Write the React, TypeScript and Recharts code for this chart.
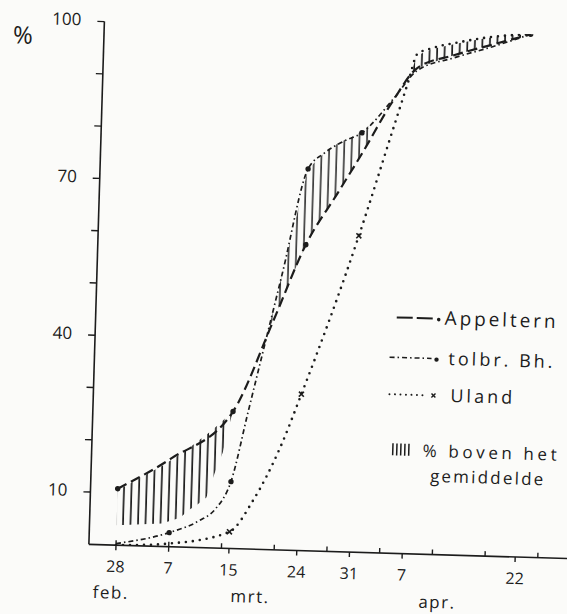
import React from 'react';
import { ComposedChart, Line, Area, XAxis, YAxis } from 'recharts';

// days after 28 feb, cumulative %
const appelternDays = [0, 7, 15, 20, 24, 28, 31, 35, 38, 43, 48, 53];
const appelternValues = [10.8, 16.9, 26.2, 43.8, 58.5, 68.5, 76, 86.5, 92.8, 95.6, 97.8, 100];
const appelternMarks = [0, 15, 24, 53];

const tolbrDays = [0, 7, 11, 13, 15, 17, 21, 24, 26, 28.5, 31, 35, 38, 43, 48, 53];
const tolbrValues = [0.3, 2.7, 5.2, 7.4, 12.8, 26.2, 52.9, 73, 76, 78.4, 80.2, 86.8, 92.3, 95.1, 97.4, 100];
const tolbrMarks = [7, 15, 24, 31];

const ulandDays = [0, 7, 15, 18, 21.4, 24, 31, 35, 37, 38, 40, 43, 48, 53];
const ulandValues = [0, 0.6, 3.2, 9.3, 19.6, 29.9, 60.5, 80.5, 90.5, 95.5, 96.8, 97.9, 99.3, 100];
const ulandMarks = [15, 24, 31];

// hatched parts: "% boven het gemiddelde"
const hatch1Days = [0, 6, 8.4, 9.4, 10.6, 11.8, 12.8, 13.8, 14.4, 14.9];
const hatch1Low = [3.8, 4.4, 5.6, 7.0, 8.2, 9.6, 14.3, 18.3, 22.6, 25.8];
const hatch1High = [10.5, 15.6, 18.0, 19.1, 20.5, 21.9, 23.2, 24.6, 25.5, 25.9];

const hatch2Days = [19.3, 20, 21, 22, 23, 24, 26, 28, 30, 32];
const hatch2Low = [41.7, 44.1, 47.7, 51.3, 54.9, 58.5, 63.5, 68.5, 73.5, 78.6];
const hatch2High = [41.7, 46.2, 52.9, 59.6, 66.3, 73, 76, 78.2, 79.6, 81.7];

const hatch3Days = [36.8, 38, 40, 43, 46, 48, 50, 52];
const hatch3Low = [90.0, 92.8, 94.0, 95.6, 96.9, 97.8, 98.7, 99.5];
const hatch3High = [90.0, 95.3, 96.6, 97.7, 98.7, 99.2, 99.6, 99.9];

const xTickDays = [0, 7, 14, 15, 21, 24, 28, 31, 35, 38, 42, 49, 53, 56];
const xWeekDays = [0, 7, 14, 21, 28, 35, 42, 49, 56];
const xLabelDays = [0, 7, 15, 24, 31, 38, 53];
const xLabelTexts = ['28', '7', '15', '24', '31', '7', '22'];
const monthDays = [-0.5, 18, 42.8];
const monthNames = ['feb.', 'mrt.', 'apr.'];

const yTicks = [10, 20, 30, 40, 50, 60, 70, 80, 90, 100];
const yLabels = [10, 40, 70, 100];

const legendNames = ['Appeltern', 'tolbr. Bh.', 'Uland'];
const hatchNote = ['% boven het', 'gemiddelde'];

const INK = '#1c1c1c';
const PAPER = '#fbfbf9';
const FONT = '"Open Sans", "DejaVu Sans", sans-serif';
const W = 580;
const H = 614;

const DASH = '10 5';
const DASH_DOT = '5 3 1.5 3';
const DOTTED = '0 7';

const toRows = (days: number[], values: number[]) => days.map((day, i) => ({ day, v: values[i] }));
const toRange = (days: number[], low: number[], high: number[]) =>
  days.map((day, i) => ({ day, range: [low[i], high[i]] }));

function makeDot(marks: number[], kind: 'dot' | 'x') {
  return (props: any) => {
    const { cx, cy, payload, index } = props;
    if (cx == null || !marks.includes(payload.day)) return <g key={`e${index}`} />;
    if (kind === 'x') {
      return (
        <g key={`x${index}`} stroke={INK} strokeWidth={1.6}>
          <line x1={cx - 2.5} y1={cy - 2.5} x2={cx + 2.5} y2={cy + 2.5} />
          <line x1={cx - 2.5} y1={cy + 2.5} x2={cx + 2.5} y2={cy - 2.5} />
        </g>
      );
    }
    return <circle key={`c${index}`} cx={cx} cy={cy} r={2.7} fill={INK} />;
  };
}

const XTick = ({ x, y, payload }: any) => {
  const v = payload.value;
  const li = xLabelDays.indexOf(v);
  return (
    <g stroke={INK} strokeWidth={1.4}>
      {xWeekDays.includes(v) && <line x1={x} x2={x} y1={y - 5} y2={y} />}
      {li >= 0 && <line x1={x} x2={x} y1={y} y2={y + 5} />}
      {li >= 0 && (
        <text x={x} y={y + 21} textAnchor="middle" dominantBaseline="central" stroke="none" fill={INK}
          fontFamily={FONT} fontSize={16}>
          {xLabelTexts[li]}
        </text>
      )}
    </g>
  );
};

const MonthTick = ({ x, y, payload, index }: any) => (
  <text x={x} y={y + 17} textAnchor="middle" dominantBaseline="central" fill={INK}
    fontFamily={FONT} fontSize={17} letterSpacing={1.5}>
    {monthNames[index] ?? monthNames[monthDays.indexOf(payload.value)]}
  </text>
);

const YTick = ({ x, y, payload }: any) => {
  const v = payload.value;
  return (
    <g>
      <line x1={x - 7} x2={x} y1={y} y2={y} stroke={INK} strokeWidth={1.4} />
      {yLabels.includes(v) && (
        <text x={x - 23} y={y - 2} textAnchor="end" dominantBaseline="central" fill={INK}
          fontFamily={FONT} fontSize={17}>
          {v}
        </text>
      )}
    </g>
  );
};

function LegendOverlay() {
  const txt = { fill: INK, fontFamily: FONT, fontSize: 17, dominantBaseline: 'central' as const };
  return (
    <svg width={W} height={H} style={{ position: 'absolute', left: 0, top: 0, pointerEvents: 'none' }}>
      <text x={15} y={42} {...txt} fontSize={24} textAnchor="middle">%</text>

      <line x1={397} x2={435} y1={314} y2={314} stroke={INK} strokeWidth={2} strokeDasharray="16 4" />
      <circle cx={439} cy={315} r={1.8} fill={INK} />
      <text x={445} y={313} {...txt} fontSize={19} letterSpacing={2.9}>{legendNames[0]}</text>

      <line x1={391} x2={433} y1={354} y2={354} stroke={INK} strokeWidth={1.6} strokeDasharray={DASH_DOT} />
      <circle cx={438} cy={355} r={2.2} fill={INK} />
      <text x={450} y={353} {...txt} fontSize={18} letterSpacing={3}>{legendNames[1]}</text>

      <line x1={392} x2={430} y1={391} y2={391} stroke={INK} strokeWidth={2} strokeDasharray="0 5.5"
        strokeLinecap="round" />
      <g stroke={INK} strokeWidth={1.4}>
        <line x1={434} y1={389} x2={438} y2={393} />
        <line x1={434} y1={393} x2={438} y2={389} />
      </g>
      <text x={453} y={390} {...txt} fontSize={18} letterSpacing={3}>{legendNames[2]}</text>

      {[0, 1, 2, 3, 4].map((k) => (
        <line key={k} x1={397 + k * 4} x2={397 + k * 4} y1={440} y2={452} stroke={INK} strokeWidth={1.5} />
      ))}
      <text x={427} y={446} {...txt} letterSpacing={3.6}>{hatchNote[0]}</text>
      <text x={435} y={471} {...txt} letterSpacing={2.2}>{hatchNote[1]}</text>
    </svg>
  );
}

export default function App() {
  const domain: [number, number] = [-3.6, 60.1];
  return (
    <div style={{ position: 'absolute', left: 0, top: 0, width: 567, height: 614, overflow: 'hidden', background: PAPER }}>
      <div style={{ position: 'relative', width: W, height: H, transform: 'rotate(1.7deg)', transformOrigin: '283px 307px' }}>
        <ComposedChart width={W} height={H} margin={{ top: 27, right: 4, bottom: 0, left: 0 }}>
          <defs>
            <pattern id="hatch" patternUnits="userSpaceOnUse" width={7.5} height={10}>
              <line x1={2} x2={2} y1={-1} y2={11} stroke={INK} strokeWidth={1.7} />
            </pattern>
          </defs>
          <XAxis type="number" dataKey="day" domain={domain} allowDataOverflow ticks={xTickDays} interval={0}
            tick={<XTick />} tickLine={false} tickSize={0} tickMargin={0} height={30}
            axisLine={{ stroke: INK, strokeWidth: 1.6 }} />
          <XAxis xAxisId="month" type="number" dataKey="day" domain={domain} allowDataOverflow ticks={monthDays}
            interval={0} tick={<MonthTick />} tickLine={false} tickSize={0} tickMargin={0} height={34}
            axisLine={false} />
          <YAxis type="number" domain={[0, 100]} allowDataOverflow ticks={yTicks} interval={0} width={96}
            tick={<YTick />} tickLine={false} tickSize={0} tickMargin={0}
            axisLine={{ stroke: INK, strokeWidth: 1.6 }} />

          <Area data={toRange(hatch1Days, hatch1Low, hatch1High)} dataKey="range" type="linear"
            fill="url(#hatch)" fillOpacity={1} stroke="none" dot={false} activeDot={false} isAnimationActive={false} />
          <Area data={toRange(hatch2Days, hatch2Low, hatch2High)} dataKey="range" type="linear"
            fill="url(#hatch)" fillOpacity={0.85} stroke="none" dot={false} activeDot={false} isAnimationActive={false} />
          <Area data={toRange(hatch3Days, hatch3Low, hatch3High)} dataKey="range" type="linear"
            fill="url(#hatch)" fillOpacity={1} stroke="none" dot={false} activeDot={false} isAnimationActive={false} />

          <Line data={toRows(ulandDays, ulandValues)} dataKey="v" name={legendNames[2]} type="monotone"
            stroke={INK} strokeWidth={2.6} strokeDasharray={DOTTED} strokeLinecap="round"
            dot={makeDot(ulandMarks, 'x')} activeDot={false} isAnimationActive={false} />
          <Line data={toRows(tolbrDays, tolbrValues)} dataKey="v" name={legendNames[1]} type="monotone"
            stroke={INK} strokeWidth={1.7} strokeDasharray={DASH_DOT}
            dot={makeDot(tolbrMarks, 'dot')} activeDot={false} isAnimationActive={false} />
          <Line data={toRows(appelternDays, appelternValues)} dataKey="v" name={legendNames[0]} type="monotone"
            stroke={INK} strokeWidth={2.2} strokeDasharray={DASH}
            dot={makeDot(appelternMarks, 'dot')} activeDot={false} isAnimationActive={false} />
        </ComposedChart>
        <LegendOverlay />
      </div>
    </div>
  );
}
